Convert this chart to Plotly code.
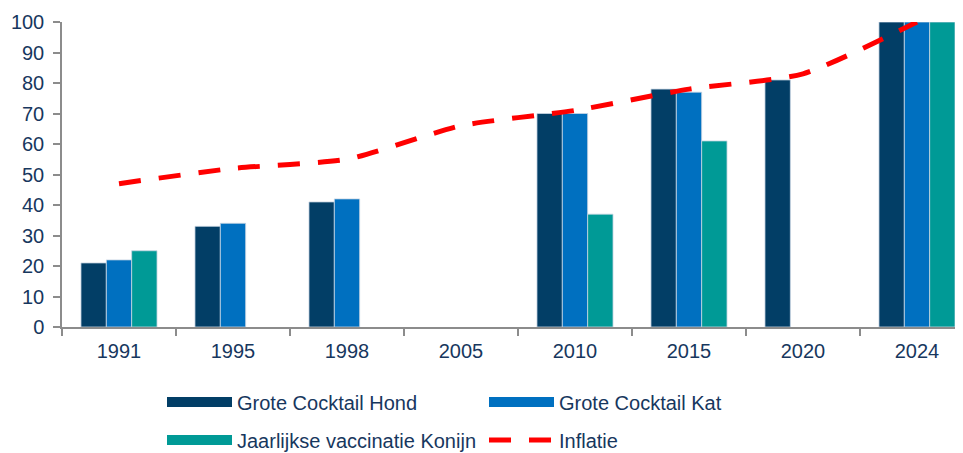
import plotly.graph_objects as go

years = ["1991", "1995", "1998", "2005", "2010", "2015", "2020", "2024"]
hond = [21, 33, 41, None, 70, 78, 81, 100]
kat = [22, 34, 42, None, 70, 77, None, 100]
konijn = [25, None, None, None, 37, 61, None, 100]
inflatie = [47, 52, 55, 66, 71, 78, 83, 100]
y_ticks = [0, 10, 20, 30, 40, 50, 60, 70, 80, 90, 100]

bar_names = ["Grote Cocktail Hond", "Grote Cocktail Kat", "Jaarlijkse vaccinatie Konijn"]
bar_values = [hond, kat, konijn]
bar_colors = ["#023E66", "#0070C0", "#009A96"]
bar_legends = ["legend", "legend", "legend2"]
line_name = "Inflatie"

TEXT = "#17375E"
GREY = "#8C8C8C"
FONT = "Liberation Sans, Arial, sans-serif"

fig = go.Figure()
for name, vals, col in zip(bar_names, bar_values, bar_colors):
    fig.add_trace(go.Bar(x=years, y=vals, name=name, marker_color=col,
                         marker_line=dict(color="#C9D6E3", width=0.8),
                         showlegend=False))

# legend swatches
for name, col, lg in zip(bar_names, bar_colors, bar_legends):
    fig.add_trace(go.Scatter(x=[None], y=[None], mode="lines", name=name,
                             line=dict(color=col, width=11), legend=lg,
                             showlegend=True))

fig.add_trace(go.Scatter(x=years, y=inflatie, mode="lines", name=line_name,
                         line=dict(color="#FF0000", width=5, dash="22px,18px",
                                   shape="spline", smoothing=0.6),
                         legend="legend2"))

# page has an 8px body margin; figure drawn at (8, 8)
OFF = 8
W, H = 963 - OFF, 453 - OFF
ML, MT = 62 - OFF, 22 - OFF
MB = H - (327 - OFF)
plot_w = W - ML
plot_h = H - MT - MB
lx = (162 - 62) / plot_w
fig.update_layout(
    width=W, height=H,
    margin=dict(l=ML, r=0, t=MT, b=MB, autoexpand=False),
    paper_bgcolor="white", plot_bgcolor="white",
    font=dict(family=FONT, size=20, color=TEXT),
    barmode="group", bargap=0.333, bargroupgap=0,
    legend=dict(orientation="h", x=lx, xanchor="left",
                y=(327 - 402) / plot_h, yanchor="middle",
                entrywidth=242, entrywidthmode="pixels", itemwidth=65,
                font=dict(size=20, color=TEXT), bgcolor="rgba(0,0,0,0)"),
    legend2=dict(orientation="h", x=lx, xanchor="left",
                 y=(327 - 440) / plot_h, yanchor="middle",
                 entrywidth=242, entrywidthmode="pixels", itemwidth=65,
                 font=dict(size=20, color=TEXT), bgcolor="rgba(0,0,0,0)"),
    xaxis=dict(type="category", range=[-0.5, -0.5 + plot_w / 114],
               showline=True, linecolor=GREY, linewidth=1.5, automargin=False,
               ticks="outside", tickson="boundaries", ticklen=7, tickcolor=GREY,
               tickwidth=1.5, showgrid=False, zeroline=False, ticklabelstandoff=5,
               tickfont=dict(size=20, color=TEXT)),
    yaxis=dict(range=[0, 100], tickvals=y_ticks, showline=True, linecolor=GREY,
               linewidth=1.5, ticks="outside", ticklen=7, tickcolor=GREY,
               tickwidth=1.5, showgrid=False, zeroline=False, automargin=False,
               ticklabelstandoff=5, tickfont=dict(size=20, color=TEXT)),
)

fig.write_html("out.html")
